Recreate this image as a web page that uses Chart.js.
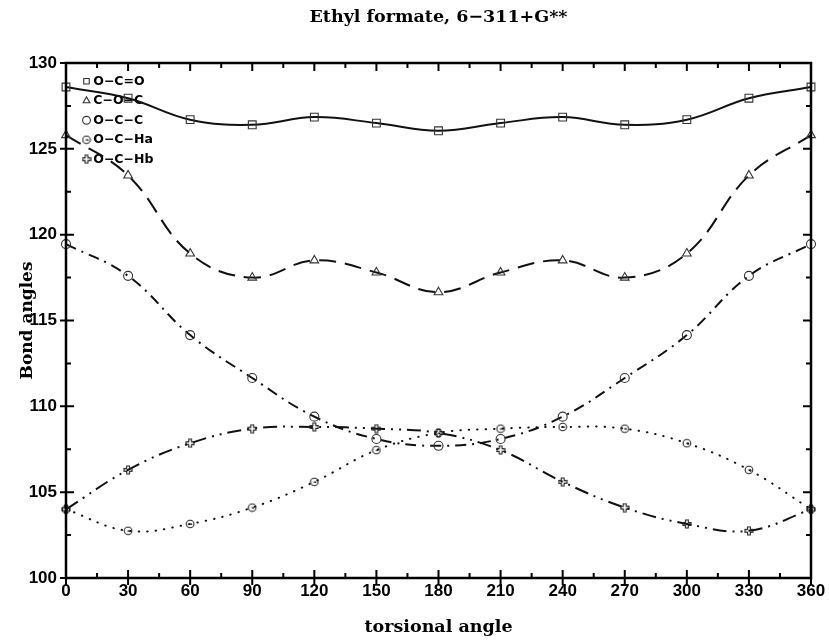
<!DOCTYPE html>
<html>
<head>
<meta charset="utf-8">
<title>Ethyl formate, 6-311+G**</title>
<script src="https://cdn.jsdelivr.net/npm/chart.js@4.4.1/dist/chart.umd.min.js"></script>
<style>
  html, body { margin: 0; padding: 0; background: #fff; }
  #wrap { width: 829px; height: 640px; }
</style>
</head>
<body>
<div id="wrap"><canvas id="angleChart" width="829" height="640"></canvas></div>
<script>
// torsional angle (deg)
const torsion = [0, 30, 60, 90, 120, 150, 180, 210, 240, 270, 300, 330, 360];

// bond angles (deg)
const ocoVals  = [128.6, 127.95, 126.7, 126.4, 126.85, 126.5, 126.05, 126.5, 126.85, 126.4, 126.7, 127.95, 128.6];
const cocVals  = [125.8, 123.45, 118.9, 117.5, 118.5, 117.8, 116.65, 117.8, 118.5, 117.5, 118.9, 123.45, 125.8];
const occVals  = [119.45, 117.6, 114.15, 111.65, 109.4, 108.1, 107.7, 108.1, 109.4, 111.65, 114.15, 117.6, 119.45];
const ochaVals = [104.0, 102.75, 103.15, 104.1, 105.6, 107.45, 108.45, 108.7, 108.8, 108.7, 107.85, 106.3, 104.0];
const ochbVals = [104.0, 106.3, 107.85, 108.7, 108.8, 108.7, 108.45, 107.45, 105.6, 104.1, 103.15, 102.75, 104.0];

const seriesNames = ['O\u2212C=O', 'C\u2212O\u2212C', 'O\u2212C\u2212C', 'O\u2212C\u2212Ha', 'O\u2212C\u2212Hb'];
const xTicks = [0, 360, 30];
const yTicks = [100, 130, 5];

// small hand drawn markers for the two H series
function marker(kind) {
    const c = document.createElement('canvas');
    c.width = 10; c.height = 10;
    const g = c.getContext('2d');
    g.strokeStyle = '#222';
    g.lineWidth = 1.1;
    const m = 5;
    if (kind === 'ha') {
        g.beginPath(); g.arc(m, m, 3.8, 0, Math.PI * 2); g.stroke();
        g.fillStyle = '#222';
        g.fillRect(m - 0.5, m - 0.5, 2.5, 1.5);
    } else {
        const a = 1.4, b = 4;
        g.beginPath();
        g.moveTo(m - a, m - b); g.lineTo(m + a, m - b); g.lineTo(m + a, m - a);
        g.lineTo(m + b, m - a); g.lineTo(m + b, m + a); g.lineTo(m + a, m + a);
        g.lineTo(m + a, m + b); g.lineTo(m - a, m + b); g.lineTo(m - a, m + a);
        g.lineTo(m - b, m + a); g.lineTo(m - b, m - a); g.lineTo(m - a, m - a);
        g.closePath(); g.stroke();
    }
    return c;
}

const pts = vals => vals.map((v, i) => ({ x: torsion[i], y: v }));

function series(i, vals, dash, pointStyle, radius, cap) {
    return {
        label: seriesNames[i],
        data: pts(vals),
        borderColor: '#111',
        borderWidth: 2,
        borderDash: dash,
        borderCapStyle: cap || 'butt',
        tension: 0.4,
        fill: false,
        pointStyle: pointStyle,
        pointRadius: radius,
        pointHoverRadius: radius,
        pointBorderColor: '#333',
        pointBackgroundColor: 'rgba(0,0,0,0)',
        pointBorderWidth: 1.1,
        clip: false
    };
}

// frame plus tick marks on all four sides
const frameTicks = {
    id: 'frameTicks',
    afterDraw(chart) {
        const { ctx, chartArea: a, scales: { x, y } } = chart;
        ctx.save();
        ctx.strokeStyle = '#000';
        ctx.lineWidth = 2;
        for (let v = xTicks[0]; v <= xTicks[1]; v += xTicks[2] / 2) {
            const px = x.getPixelForValue(v);
            const major = v % xTicks[2] === 0;
            ctx.beginPath();
            ctx.moveTo(px, a.bottom + (major ? 7 : 0));
            ctx.lineTo(px, a.bottom - (major ? 8 : 5));
            ctx.moveTo(px, a.top);
            ctx.lineTo(px, a.top + (major ? 8 : 5));
            ctx.stroke();
        }
        for (let v = yTicks[0]; v <= yTicks[1]; v += yTicks[2] / 2) {
            const py = y.getPixelForValue(v);
            const major = (v - yTicks[0]) % yTicks[2] === 0;
            ctx.beginPath();
            ctx.moveTo(a.left - (major ? 6 : 0), py);
            ctx.lineTo(a.left + (major ? 8 : 5), py);
            ctx.moveTo(a.right, py);
            ctx.lineTo(a.right - (major ? 8 : 5), py);
            ctx.stroke();
        }
        ctx.lineWidth = 2.5;
        ctx.strokeRect(a.left, a.top, a.right - a.left, a.bottom - a.top);
        ctx.restore();
    }
};

// put the legend block where the original has it
const legendSpot = {
    id: 'legendSpot',
    afterLayout(chart) {
        chart.legend.left = chart.chartArea.left + 13;
        chart.legend.top = chart.chartArea.top + 5;
    }
};

const tickFont = { family: 'Liberation Sans', size: 17, weight: 'bold' };
const serifFont = { family: 'DejaVu Serif', size: 17.5, weight: 'bold' };

new Chart(document.getElementById('angleChart'), {
    type: 'line',
    data: {
        datasets: [
            series(0, ocoVals, [], 'rect', 5.5),
            series(1, cocVals, [17, 9], 'triangle', 5),
            series(2, occVals, [11, 6, 2, 6], 'circle', 4.5),
            series(3, ochaVals, [0.5, 8], marker('ha'), 5, 'round'),
            series(4, ochbVals, [14, 6, 2, 6, 2, 6], marker('hb'), 5)
        ]
    },
    options: {
        responsive: false,
        animation: false,
        layout: { padding: { right: 18 } },
        plugins: {
            title: {
                display: true,
                text: 'Ethyl formate, 6\u2212311+G**',
                color: '#000',
                font: serifFont,
                fullSize: false,
                padding: { top: 7, bottom: 35 }
            },
            legend: {
                position: 'chartArea',
                align: 'start',
                labels: {
                    usePointStyle: true,
                    boxWidth: 1,
                    boxHeight: 5.5,
                    padding: 7,
                    color: '#000',
                    font: { family: 'DejaVu Sans', size: 12.5, weight: 'bold' }
                }
            },
            tooltip: { enabled: false }
        },
        scales: {
            x: {
                type: 'linear',
                min: xTicks[0],
                max: xTicks[1],
                grid: { display: false, drawTicks: false },
                border: { display: false },
                ticks: { stepSize: xTicks[2], color: '#000', font: tickFont, padding: 3, maxRotation: 0 },
                title: { display: true, text: 'torsional angle', color: '#000', font: serifFont, padding: { top: 0, bottom: 2 } },
                afterFit: s => { s.height = 62; }
            },
            y: {
                min: yTicks[0],
                max: yTicks[1],
                grid: { display: false, drawTicks: false },
                border: { display: false },
                ticks: { stepSize: yTicks[2], color: '#000', font: tickFont, padding: 9 },
                title: { display: true, text: 'Bond angles', color: '#000', font: { family: 'DejaVu Serif', size: 17, weight: 'bold' }, padding: { top: 17.5, bottom: 0 } },
                afterFit: s => { s.width = 66; }
            }
        }
    },
    plugins: [legendSpot, frameTicks]
});
</script>
</body>
</html>
